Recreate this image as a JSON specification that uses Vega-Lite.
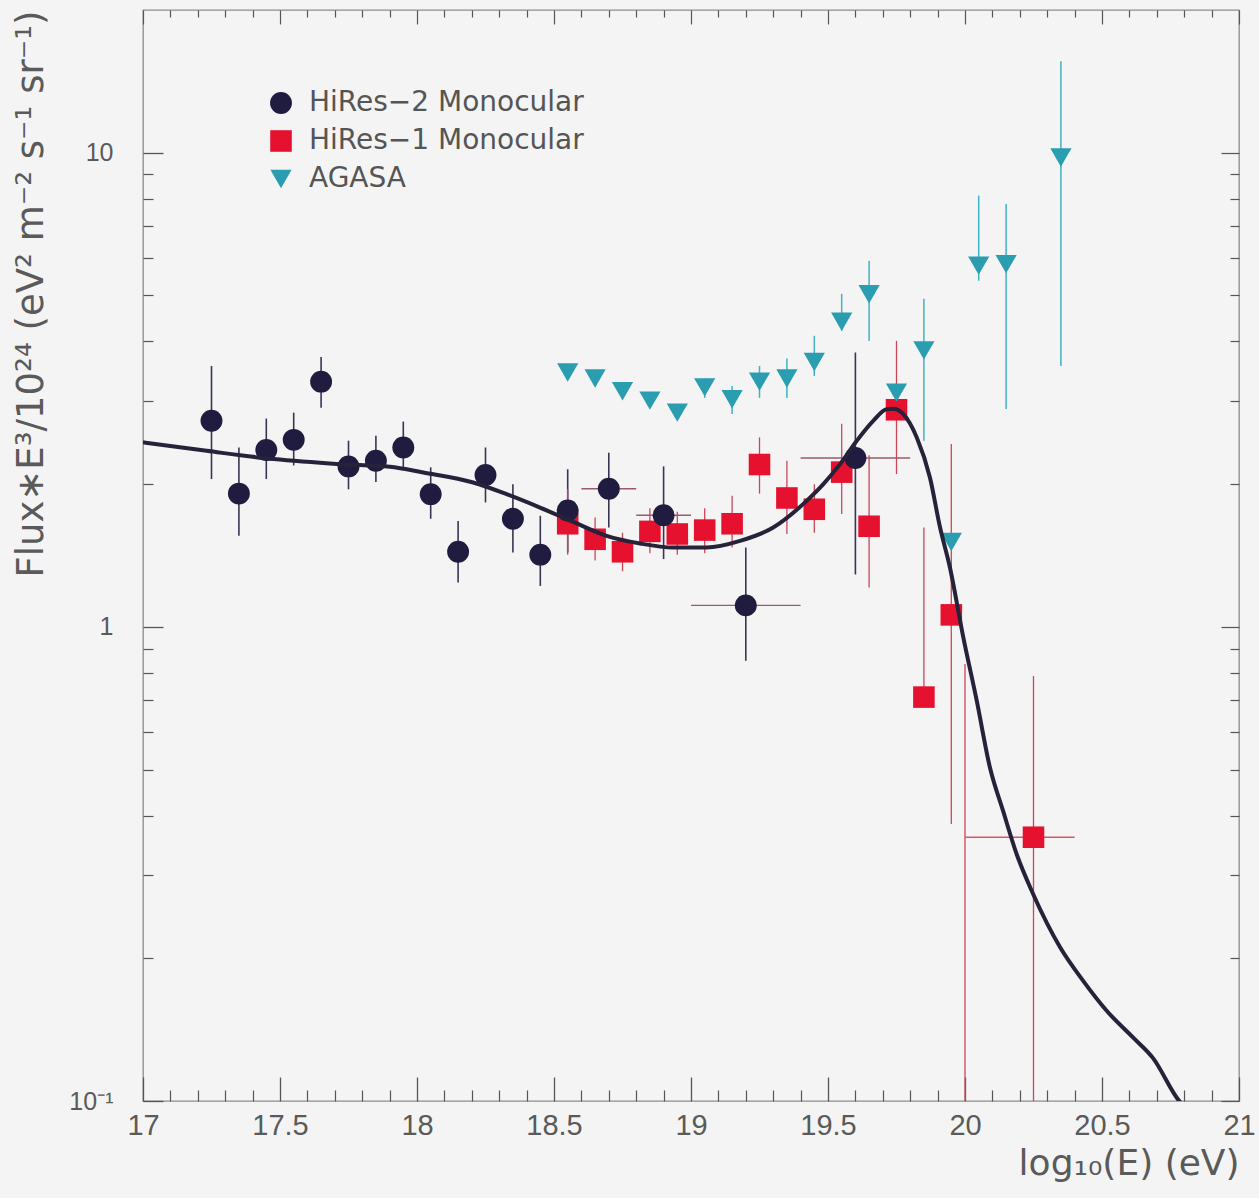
{
  "$schema": "https://vega.github.io/schema/vega-lite/v6.json",
  "width": 1096,
  "height": 1091,
  "autosize": "none",
  "padding": {"left": 143, "top": 10, "right": 20, "bottom": 97},
  "background": "#f4f4f4",
  "datasets": {
    "curve": [
      {"E": 17.0, "f": 2.45}, {"E": 17.232, "f": 2.351}, {"E": 17.476, "f": 2.259}, {"E": 17.719, "f": 2.204},
      {"E": 17.901, "f": 2.176}, {"E": 18.023, "f": 2.116}, {"E": 18.205, "f": 2.016}, {"E": 18.327, "f": 1.905},
      {"E": 18.449, "f": 1.785}, {"E": 18.57, "f": 1.665}, {"E": 18.692, "f": 1.556}, {"E": 18.814, "f": 1.499},
      {"E": 18.935, "f": 1.47}, {"E": 19.057, "f": 1.47}, {"E": 19.179, "f": 1.518}, {"E": 19.3, "f": 1.62},
      {"E": 19.422, "f": 1.844}, {"E": 19.483, "f": 2.0}, {"E": 19.544, "f": 2.204}, {"E": 19.605, "f": 2.469},
      {"E": 19.665, "f": 2.72}, {"E": 19.714, "f": 2.877}, {"E": 19.738, "f": 2.884}, {"E": 19.775, "f": 2.81},
      {"E": 19.824, "f": 2.508}, {"E": 19.872, "f": 2.065}, {"E": 19.909, "f": 1.62}, {"E": 19.945, "f": 1.334},
      {"E": 19.994, "f": 0.949}, {"E": 20.043, "f": 0.698}, {"E": 20.091, "f": 0.505}, {"E": 20.139, "f": 0.409},
      {"E": 20.189, "f": 0.331}, {"E": 20.249, "f": 0.273}, {"E": 20.347, "f": 0.211}, {"E": 20.432, "f": 0.179},
      {"E": 20.517, "f": 0.155}, {"E": 20.614, "f": 0.136}, {"E": 20.687, "f": 0.123}, {"E": 20.773, "f": 0.1016},
      {"E": 20.8, "f": 0.097}
    ],
    "points": [
      {"s": "HiRes−1 Monocular", "E": 18.55, "f": 1.65, "lo": 1.42, "hi": 1.95},
      {"s": "HiRes−1 Monocular", "E": 18.65, "f": 1.53, "lo": 1.38, "hi": 1.7},
      {"s": "HiRes−1 Monocular", "E": 18.75, "f": 1.44, "lo": 1.31, "hi": 1.58},
      {"s": "HiRes−1 Monocular", "E": 18.85, "f": 1.59, "lo": 1.43, "hi": 1.78},
      {"s": "HiRes−1 Monocular", "E": 18.95, "f": 1.57, "lo": 1.42, "hi": 1.75},
      {"s": "HiRes−1 Monocular", "E": 19.05, "f": 1.6, "lo": 1.43, "hi": 1.78},
      {"s": "HiRes−1 Monocular", "E": 19.15, "f": 1.65, "lo": 1.47, "hi": 1.89},
      {"s": "HiRes−1 Monocular", "E": 19.25, "f": 2.2, "lo": 1.91, "hi": 2.51},
      {"s": "HiRes−1 Monocular", "E": 19.35, "f": 1.87, "lo": 1.57, "hi": 2.24},
      {"s": "HiRes−1 Monocular", "E": 19.45, "f": 1.77, "lo": 1.58, "hi": 2.0},
      {"s": "HiRes−1 Monocular", "E": 19.55, "f": 2.12, "lo": 1.73, "hi": 2.68},
      {"s": "HiRes−1 Monocular", "E": 19.65, "f": 1.63, "lo": 1.21, "hi": 2.3},
      {"s": "HiRes−1 Monocular", "E": 19.75, "f": 2.87, "lo": 2.1, "hi": 4.01},
      {"s": "HiRes−1 Monocular", "E": 19.85, "f": 0.711, "lo": 0.711, "hi": 1.62},
      {"s": "HiRes−1 Monocular", "E": 19.95, "f": 1.06, "lo": 0.384, "hi": 2.43},
      {"s": "HiRes−1 Monocular", "E": 20.0, "f": null, "lo": 0.1, "hi": 0.835},
      {"s": "HiRes−1 Monocular", "E": 20.25, "f": 0.36, "lo": 0.1, "hi": 0.788, "elo": 20.0, "ehi": 20.4},
      {"s": "AGASA", "E": 18.55, "f": 3.44},
      {"s": "AGASA", "E": 18.65, "f": 3.34},
      {"s": "AGASA", "E": 18.75, "f": 3.14},
      {"s": "AGASA", "E": 18.85, "f": 3.0},
      {"s": "AGASA", "E": 18.95, "f": 2.83},
      {"s": "AGASA", "E": 19.05, "f": 3.2, "lo": 3.04, "hi": 3.34},
      {"s": "AGASA", "E": 19.15, "f": 3.02, "lo": 2.81, "hi": 3.22},
      {"s": "AGASA", "E": 19.25, "f": 3.29, "lo": 3.04, "hi": 3.55},
      {"s": "AGASA", "E": 19.35, "f": 3.34, "lo": 3.04, "hi": 3.68},
      {"s": "AGASA", "E": 19.45, "f": 3.62, "lo": 3.38, "hi": 4.11},
      {"s": "AGASA", "E": 19.55, "f": 4.4, "lo": 4.21, "hi": 5.04},
      {"s": "AGASA", "E": 19.65, "f": 5.03, "lo": 4.01, "hi": 5.92},
      {"s": "AGASA", "E": 19.75, "f": 3.12},
      {"s": "AGASA", "E": 19.85, "f": 3.83, "lo": 2.47, "hi": 4.92},
      {"s": "AGASA", "E": 19.95, "f": 1.51},
      {"s": "AGASA", "E": 20.05, "f": 5.78, "lo": 5.37, "hi": 8.12},
      {"s": "AGASA", "E": 20.15, "f": 5.82, "lo": 2.88, "hi": 7.8},
      {"s": "AGASA", "E": 20.35, "f": 9.77, "lo": 3.55, "hi": 15.6},
      {"s": "HiRes−2 Monocular", "E": 17.25, "f": 2.72, "lo": 2.05, "hi": 3.55},
      {"s": "HiRes−2 Monocular", "E": 17.35, "f": 1.91, "lo": 1.556, "hi": 2.39},
      {"s": "HiRes−2 Monocular", "E": 17.45, "f": 2.36, "lo": 2.05, "hi": 2.75},
      {"s": "HiRes−2 Monocular", "E": 17.55, "f": 2.48, "lo": 2.19, "hi": 2.83},
      {"s": "HiRes−2 Monocular", "E": 17.65, "f": 3.29, "lo": 2.9, "hi": 3.71},
      {"s": "HiRes−2 Monocular", "E": 17.75, "f": 2.18, "lo": 1.95, "hi": 2.47},
      {"s": "HiRes−2 Monocular", "E": 17.85, "f": 2.24, "lo": 2.02, "hi": 2.53},
      {"s": "HiRes−2 Monocular", "E": 17.95, "f": 2.39, "lo": 2.15, "hi": 2.71},
      {"s": "HiRes−2 Monocular", "E": 18.05, "f": 1.905, "lo": 1.69, "hi": 2.17},
      {"s": "HiRes−2 Monocular", "E": 18.15, "f": 1.44, "lo": 1.24, "hi": 1.673},
      {"s": "HiRes−2 Monocular", "E": 18.25, "f": 2.09, "lo": 1.83, "hi": 2.39},
      {"s": "HiRes−2 Monocular", "E": 18.35, "f": 1.69, "lo": 1.435, "hi": 2.0},
      {"s": "HiRes−2 Monocular", "E": 18.45, "f": 1.42, "lo": 1.22, "hi": 1.715},
      {"s": "HiRes−2 Monocular", "E": 18.55, "f": 1.76, "lo": 1.435, "hi": 2.15},
      {"s": "HiRes−2 Monocular", "E": 18.7, "f": 1.955, "lo": 1.62, "hi": 2.33, "elo": 18.6, "ehi": 18.8},
      {"s": "HiRes−2 Monocular", "E": 18.9, "f": 1.72, "lo": 1.39, "hi": 2.18, "elo": 18.8, "ehi": 19.0},
      {"s": "HiRes−2 Monocular", "E": 19.2, "f": 1.11, "lo": 0.848, "hi": 1.47, "elo": 19.0, "ehi": 19.4},
      {"s": "HiRes−2 Monocular", "E": 19.6, "f": 2.27, "lo": 1.29, "hi": 3.79, "elo": 19.4, "ehi": 19.8}
    ]
  },
  "resolve": {"axis": {"x": "independent", "y": "independent"}},
  "layer": [
    {
      "data": {"name": "points"},
      "transform": [{"filter": "datum.s == 'HiRes−2 Monocular' && isValid(datum.lo)"}],
      "mark": {"type": "rule", "color": "#3a3452", "strokeWidth": 1.6},
      "encoding": {
        "x": {"field": "E", "type": "quantitative", "scale": {"domain": [17, 21], "nice": false, "zero": false},
          "axis": {"orient": "bottom", "values": [17.1,17.2,17.3,17.4,17.6,17.7,17.8,17.9,18.1,18.2,18.3,18.4,18.6,18.7,18.8,18.9,19.1,19.2,19.3,19.4,19.6,19.7,19.8,19.9,20.1,20.2,20.3,20.4,20.6,20.7,20.8,20.9], "labels": false, "tickSize": -11, "tickWidth": 1.2, "tickColor": "#555", "domain": false, "grid": false, "title": null}},
        "y": {"field": "lo", "type": "quantitative", "scale": {"type": "log", "domain": [0.1, 20], "nice": false},
          "axis": {"orient": "left", "values": [0.2,0.3,0.4,0.5,0.6,0.7,0.8,0.9,2,3,4,5,6,7,8,9], "labels": false, "tickSize": -10, "tickWidth": 1.2, "tickColor": "#555", "domain": false, "grid": false, "title": null}},
        "y2": {"field": "hi"}
      }
    },
    {
      "data": {"name": "points"},
      "transform": [{"filter": "datum.s == 'HiRes−1 Monocular' && isValid(datum.lo)"}],
      "mark": {"type": "rule", "color": "#cc4658", "strokeWidth": 1.3},
      "encoding": {
        "x": {"field": "E", "type": "quantitative",
          "axis": {"orient": "top", "values": [17,17.5,18,18.5,19,19.5,20,20.5,21], "labels": false, "tickSize": -14, "tickWidth": 1.2, "tickColor": "#555", "domain": false, "grid": false, "title": null}},
        "y": {"field": "lo", "type": "quantitative",
          "axis": {"orient": "right", "values": [0.1, 1, 10], "labels": false, "tickSize": -18, "tickWidth": 1.2, "tickColor": "#555", "domain": false, "grid": false, "title": null}},
        "y2": {"field": "hi"}
      }
    },
    {
      "data": {"name": "points"},
      "transform": [{"filter": "datum.s == 'AGASA' && isValid(datum.lo)"}],
      "mark": {"type": "rule", "color": "#3fb2c4", "strokeWidth": 1.5},
      "encoding": {
        "x": {"field": "E", "type": "quantitative",
          "axis": {"orient": "top", "values": [17.1,17.2,17.3,17.4,17.6,17.7,17.8,17.9,18.1,18.2,18.3,18.4,18.6,18.7,18.8,18.9,19.1,19.2,19.3,19.4,19.6,19.7,19.8,19.9,20.1,20.2,20.3,20.4,20.6,20.7,20.8,20.9], "labels": false, "tickSize": -7, "tickWidth": 1.2, "tickColor": "#555", "domain": false, "grid": false, "title": null}},
        "y": {"field": "lo", "type": "quantitative",
          "axis": {"orient": "right", "values": [0.2,0.3,0.4,0.5,0.6,0.7,0.8,0.9,2,3,4,5,6,7,8,9], "labels": false, "tickSize": -9, "tickWidth": 1.2, "tickColor": "#555", "domain": false, "grid": false, "title": null}},
        "y2": {"field": "hi"}
      }
    },
    {
      "data": {"name": "points"},
      "transform": [{"filter": "datum.s == 'HiRes−2 Monocular' && isValid(datum.elo)"}],
      "mark": {"type": "rule", "color": "#9a5a6a", "strokeWidth": 1.4},
      "encoding": {
        "x": {"field": "elo", "type": "quantitative", "axis": null},
        "x2": {"field": "ehi"},
        "y": {"field": "f", "type": "quantitative", "axis": null}
      }
    },
    {
      "data": {"name": "points"},
      "transform": [{"filter": "datum.s == 'HiRes−1 Monocular' && isValid(datum.elo)"}],
      "mark": {"type": "rule", "color": "#d05a6a", "strokeWidth": 1.3},
      "encoding": {
        "x": {"field": "elo", "type": "quantitative", "axis": null},
        "x2": {"field": "ehi"},
        "y": {"field": "f", "type": "quantitative", "axis": null}
      }
    },
    {
      "data": {"name": "points"},
      "mark": {"type": "point", "filled": true, "opacity": 1, "strokeWidth": 0},
      "encoding": {
        "x": {"field": "E", "type": "quantitative", "axis": null},
        "y": {"field": "f", "type": "quantitative", "axis": null},
        "color": {"field": "s", "type": "nominal",
          "scale": {"domain": ["HiRes−2 Monocular", "HiRes−1 Monocular", "AGASA"], "range": ["#201c40", "#e5112f", "#2a9db0"]},
          "legend": {"title": null, "orient": "none", "legendX": 124, "legendY": 79, "padding": 0, "labelFontSize": 28, "labelFont": "DejaVu Sans", "labelColor": "#555", "labelOffset": 14, "labelLimit": 0, "rowPadding": 10, "symbolStrokeWidth": 0}},
        "shape": {"field": "s", "type": "nominal",
          "scale": {"domain": ["HiRes−2 Monocular", "HiRes−1 Monocular", "AGASA"], "range": ["circle", "square", "triangle-down"]}},
        "size": {"field": "s", "type": "nominal",
          "scale": {"domain": ["HiRes−2 Monocular", "HiRes−1 Monocular", "AGASA"], "range": [480, 450, 150]}}
      }
    },
    {
      "data": {"name": "curve"},
      "mark": {"type": "line", "color": "#25223a", "strokeWidth": 4, "interpolate": "monotone", "clip": true},
      "encoding": {
        "x": {"field": "E", "type": "quantitative",
          "axis": {"orient": "bottom", "values": [17,17.5,18,18.5,19,19.5,20,20.5,21], "format": "~g", "tickSize": -24, "tickWidth": 1.3, "tickColor": "#555", "labelPadding": 34, "labelFontSize": 29, "labelFont": "Liberation Sans", "labelColor": "#5a5a5a", "labelFlush": false, "labelOverlap": false, "domain": false, "grid": false,
            "title": "log₁₀(E) (eV)", "titleFontSize": 36, "titleFont": "DejaVu Sans", "titleFontWeight": "normal", "titleColor": "#5a5a5a", "titleAnchor": "end", "titlePadding": 6}},
        "y": {"field": "f", "type": "quantitative",
          "axis": {"orient": "left", "values": [0.1, 1, 10], "labelExpr": "datum.value >= 5 ? '10' : datum.value >= 0.5 ? '1' : '10⁻¹'", "tickSize": -20, "tickWidth": 1.3, "tickColor": "#555", "labelPadding": 50, "labelFontSize": 25, "labelFont": "Liberation Sans", "labelColor": "#5a5a5a", "labelFlush": false, "labelOverlap": false, "domain": false, "grid": false,
            "title": "Flux∗E³/10²⁴ (eV² m⁻² s⁻¹ sr⁻¹)", "titleFontSize": 37, "titleFont": "DejaVu Sans", "titleFontWeight": "normal", "titleColor": "#5a5a5a", "titleAnchor": "end", "titlePadding": 18}}
      }
    }
  ],
  "config": {
    "view": {"stroke": "#8c8c8c", "strokeWidth": 1.3},
    "axis": {"grid": false}
  }
}
